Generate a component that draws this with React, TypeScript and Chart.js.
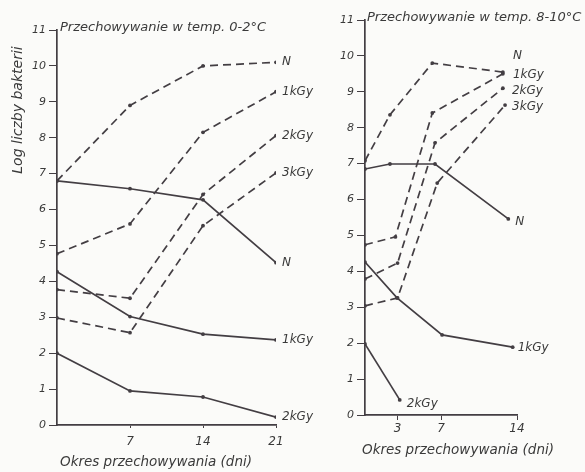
import React, { useEffect, useRef } from "react";
import { Chart, registerables } from "chart.js";

Chart.register(...registerables);

// ---------- Left panel: storage at 0-2 °C ----------
const leftDays = [0, 7, 14, 21];
const leftDashedN = [6.8, 8.9, 10.0, 10.1];
const leftDashed1kGy = [4.77, 5.6, 8.15, 9.28];
const leftDashed2kGy = [3.77, 3.53, 6.42, 8.06];
const leftDashed3kGy = [2.98, 2.57, 5.55, 7.02];
const leftSolidN = [6.8, 6.58, 6.27, 4.52];
const leftSolid1kGy = [4.27, 3.02, 2.53, 2.37];
const leftSolid2kGy = [2.0, 0.95, 0.78, 0.22];
const leftXTicks = [7, 14, 21];

// ---------- Right panel: storage at 8-10 °C ----------
const rightDashedNDays = [0, 2.3, 6.2, 12.7];
const rightDashedN = [7.08, 8.36, 9.8, 9.55];
const rightDashed1kGyDays = [0, 2.8, 6.2, 12.7];
const rightDashed1kGy = [4.74, 4.96, 8.41, 9.5];
const rightDashed2kGyDays = [0, 3.0, 6.45, 12.7];
const rightDashed2kGy = [3.79, 4.23, 7.58, 9.1];
const rightDashed3kGyDays = [0, 3.0, 6.65, 12.9];
const rightDashed3kGy = [3.04, 3.26, 6.46, 8.63];
const rightSolidNDays = [0, 2.3, 6.45, 13.2];
const rightSolidN = [6.85, 6.99, 6.99, 5.46];
const rightSolid1kGyDays = [0, 2.95, 7.1, 13.6];
const rightSolid1kGy = [4.26, 3.26, 2.23, 1.89];
const rightSolid2kGyDays = [0, 3.2];
const rightSolid2kGy = [1.98, 0.42];
const rightXTicks = [3, 7, 14];

const yTickValues = [0, 1, 2, 3, 4, 5, 6, 7, 8, 9, 10, 11];

const leftTitle = "Przechowywanie w temp. 0-2°C";
const rightTitle = "Przechowywanie w temp. 8-10°C";
const xTitle = "Okres przechowywania (dni)";
const yTitle = "Log liczby bakterii";

const INK = "#3a3a3a";
const LINE = "#433e43";
const FONT = "'DejaVu Sans', sans-serif";

function pts(xs: number[], ys: number[]) {
  return xs.map((x, i) => ({ x, y: ys[i] }));
}

function ds(xs: number[], ys: number[], label: string, dashed: boolean, dx = 6, dy = 0) {
  return {
    label,
    data: pts(xs, ys),
    borderColor: LINE,
    backgroundColor: LINE,
    borderWidth: 1.7,
    borderDash: dashed ? [8, 5] : [],
    pointRadius: 1.9,
    pointHoverRadius: 1.9,
    pointBackgroundColor: LINE,
    pointBorderWidth: 0,
    tension: 0,
    fill: false,
    endLabelDx: dx,
    endLabelDy: dy,
  };
}

const textLayer = {
  id: "textLayer",
  afterDatasetsDraw(chart: any) {
    const ctx = chart.ctx;
    const area = chart.chartArea;
    const t = chart.options.plugins.textLayer || {};
    ctx.save();
    ctx.fillStyle = INK;
    ctx.font = `italic 12px ${FONT}`;
    ctx.textAlign = "left";
    ctx.textBaseline = "middle";
    chart.data.datasets.forEach((d: any, i: number) => {
      const meta = chart.getDatasetMeta(i);
      const last = meta.data[meta.data.length - 1];
      if (!last) return;
      ctx.fillText(d.label, last.x + (d.endLabelDx || 0), last.y + (d.endLabelDy || 0));
    });
    // panel title
    ctx.font = `italic 13px ${FONT}`;
    ctx.fillText(t.title, area.left + t.titleDx, area.top + t.titleDy);
    // x-axis title
    ctx.font = `italic 13.5px ${FONT}`;
    ctx.fillText(xTitle, area.left + t.xTitleDx, area.bottom + t.xTitleDy);
    // y-axis title
    if (t.showYTitle) {
      ctx.translate(t.yTitleX, t.yTitleY);
      ctx.rotate(-Math.PI / 2);
      ctx.textAlign = "center";
      ctx.font = `italic 14px ${FONT}`;
      ctx.fillText(yTitle, 0, 0);
    }
    ctx.restore();
  },
};

function makeOptions(o: any) {
  return {
    responsive: false,
    animation: false,
    events: [],
    layout: { padding: { left: 0, right: o.padRight, top: o.padTop, bottom: 0 } },
    plugins: {
      legend: { display: false },
      tooltip: { enabled: false },
      title: { display: false },
      textLayer: o.text,
    },
    scales: {
      x: {
        type: "linear",
        min: 0,
        max: o.xMax,
        afterBuildTicks: (scale: any) => {
          scale.ticks = o.xTicks.map((v: number) => ({ value: v }));
        },
        afterFit: (scale: any) => {
          scale.height = o.xHeight;
        },
        ticks: {
          color: INK,
          font: { family: FONT, size: 12, style: "italic" },
          padding: o.xTickPad,
          maxRotation: 0,
          autoSkip: false,
        },
        grid: {
          drawOnChartArea: false,
          drawTicks: true,
          tickLength: o.xTickLen,
          color: LINE,
          lineWidth: 1,
        },
        border: { display: true, color: LINE, width: 1.7 },
        title: { display: false },
      },
      y: {
        type: "linear",
        min: 0,
        max: 11,
        afterBuildTicks: (scale: any) => {
          scale.ticks = yTickValues.map((v) => ({ value: v }));
        },
        afterFit: (scale: any) => {
          scale.width = o.yWidth;
        },
        ticks: {
          color: INK,
          font: { family: FONT, size: 11, style: "italic" },
          padding: 3,
        },
        grid: {
          drawOnChartArea: false,
          drawTicks: true,
          tickLength: 8,
          color: LINE,
          lineWidth: 1,
        },
        border: { display: true, color: LINE, width: 1.7 },
        title: { display: false },
      },
    },
  };
}

function Panel(props: { left: number; width: number; datasets: any[]; options: any }) {
  const ref = useRef<HTMLCanvasElement | null>(null);
  useEffect(() => {
    if (!ref.current) return;
    const chart = new Chart(ref.current, {
      type: "line",
      data: { datasets: props.datasets },
      options: props.options,
      plugins: [textLayer],
    } as any);
    return () => chart.destroy();
  }, []);
  return (
    <canvas
      ref={ref}
      width={props.width}
      height={472}
      style={{ position: "absolute", left: props.left, top: 0, width: props.width, height: 472 }}
    />
  );
}

export default function App() {
  const leftDatasets = [
    ds(leftDays, leftDashedN, "N", true),
    ds(leftDays, leftDashed1kGy, "1kGy", true),
    ds(leftDays, leftDashed2kGy, "2kGy", true),
    ds(leftDays, leftDashed3kGy, "3kGy", true),
    ds(leftDays, leftSolidN, "N", false),
    ds(leftDays, leftSolid1kGy, "1kGy", false),
    ds(leftDays, leftSolid2kGy, "2kGy", false),
  ];
  const rightDatasets = [
    ds(rightDashedNDays, rightDashedN, "N", true, 10, -16),
    ds(rightDashed1kGyDays, rightDashed1kGy, "1kGy", true, 10, 1),
    ds(rightDashed2kGyDays, rightDashed2kGy, "2kGy", true, 9, 3),
    ds(rightDashed3kGyDays, rightDashed3kGy, "3kGy", true, 7, 2),
    ds(rightSolidNDays, rightSolidN, "N", false, 7, 3),
    ds(rightSolid1kGyDays, rightSolid1kGy, "1kGy", false, 5, 1),
    ds(rightSolid2kGyDays, rightSolid2kGy, "2kGy", false, 7, 4),
  ];
  const leftOptions = makeOptions({
    xMax: 21,
    xTicks: leftXTicks,
    yWidth: 57,
    xHeight: 472 - 425,
    padRight: 330 - 276,
    padTop: 30,
    xTickLen: 3,
    xTickPad: 7,
    text: {
      title: leftTitle,
      titleDx: 3,
      titleDy: -2,
      xTitleDx: 3,
      xTitleDy: 37,
      showYTitle: true,
      yTitleX: 18,
      yTitleY: 110,
    },
  });
  const rightOptions = makeOptions({
    xMax: 14,
    xTicks: rightXTicks,
    yWidth: 65,
    xHeight: 472 - 415,
    padRight: 285 - 217,
    padTop: 20,
    xTickLen: 5,
    xTickPad: 2,
    text: {
      title: rightTitle,
      titleDx: 2,
      titleDy: -2,
      xTitleDx: -3,
      xTitleDy: 35,
      showYTitle: false,
      yTitleX: 0,
      yTitleY: 0,
    },
  });
  return (
    <div
      style={{
        position: "fixed",
        left: 0,
        top: 0,
        width: 585,
        height: 472,
        background: "#fbfbf9",
        overflow: "hidden",
      }}
    >
      <Panel left={0} width={330} datasets={leftDatasets} options={leftOptions} />
      <Panel left={300} width={285} datasets={rightDatasets} options={rightOptions} />
    </div>
  );
}
